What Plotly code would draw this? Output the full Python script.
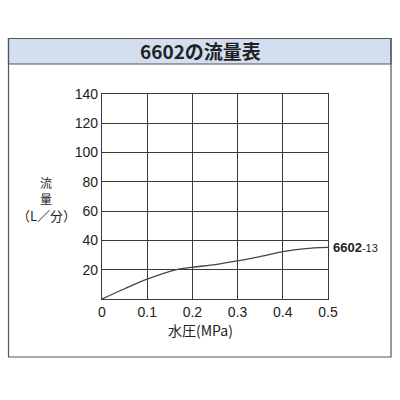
import plotly.graph_objects as go

pressure = [0, 0.05, 0.1, 0.165, 0.2, 0.25, 0.3, 0.35, 0.4, 0.45, 0.5]
flow = [0, 7, 13.5, 20, 21.7, 23.5, 26, 29, 32.3, 34.4, 35.2]
x_ticks = [0, 0.1, 0.2, 0.3, 0.4, 0.5]
x_tick_labels = ["0", "0.1", "0.2", "0.3", "0.4", "0.5"]
y_ticks = [20, 40, 60, 80, 100, 120, 140]
title_text = "6602の流量表"
y_title_lines = ["流", "量", "（L／分）"]
x_title = "水圧(MPa)"
series_name = "6602"
series_suffix = "-13"

W = H = 400
def px(x):
    return x / W
def py(y):
    return 1 - y / H

font_jp = "Noto Sans CJK JP"
tick_color = "#222222"
grid_color = "#3a3a3a"

fig = go.Figure()
fig.add_trace(go.Scatter(
    x=pressure, y=flow, mode="lines",
    line=dict(color="#444444", width=1.3, shape="spline", smoothing=0.8),
    hoverinfo="skip", showlegend=False,
))

annotations = [
    dict(text="<b>" + title_text + "</b>", xref="paper", yref="paper",
         x=px(200), y=py(51), xanchor="center", yanchor="middle", showarrow=False,
         font=dict(family=font_jp, size=19, color="#222222")),
    dict(text=x_title, xref="paper", yref="paper",
         x=px(200), y=py(330), xanchor="center", yanchor="middle", showarrow=False,
         borderpad=0,
         font=dict(family=font_jp, size=14, color="#222222")),
    dict(text="<b>" + series_name + "</b><span style='font-size:11px'>" + series_suffix + "</span>",
         x=pressure[-1], y=flow[-1], xref="x", yref="y",
         xanchor="left", yanchor="middle", xshift=3, showarrow=False,
         font=dict(family="Liberation Sans, Arial", size=13, color="#222222")),
]
for i, (txt, yy) in enumerate(zip(y_title_lines, [182, 198, 215])):
    annotations.append(dict(text=txt, xref="paper", yref="paper",
                            x=px(46), y=py(yy), xanchor="center", yanchor="middle",
                            showarrow=False, borderpad=0,
                            font=dict(family=font_jp, size=12 if i < 2 else 13, color="#222222")))

fig.update_layout(
    width=W, height=H,
    margin=dict(l=0, r=0, t=0, b=0),
    paper_bgcolor="white", plot_bgcolor="white",
    showlegend=False,
    xaxis=dict(
        domain=[px(102), px(328)], range=[0, 0.5],
        tickvals=x_ticks, ticktext=x_tick_labels,
        showgrid=True, gridcolor=grid_color, gridwidth=1.4,
        showline=True, linecolor=grid_color, linewidth=1.4, mirror=True,
        zeroline=False, ticks="", ticklen=0, automargin=False,
        tickfont=dict(family="Liberation Sans, Arial", size=14, color=tick_color),
    ),
    yaxis=dict(
        domain=[py(299), py(94)], range=[0, 140],
        tickvals=y_ticks,
        showgrid=True, gridcolor=grid_color, gridwidth=1.4,
        showline=True, linecolor=grid_color, linewidth=1.4, mirror=True,
        zeroline=False, ticks="", ticklen=0, automargin=False,
        tickfont=dict(family="Liberation Sans, Arial", size=14, color=tick_color),
    ),
    shapes=[
        dict(type="rect", xref="paper", yref="paper",
             x0=px(8.5), x1=px(391), y0=py(64), y1=py(38.5),
             fillcolor="#d3def0", line=dict(color="#555555", width=1.2), layer="below"),
        dict(type="rect", xref="paper", yref="paper",
             x0=px(8.5), x1=px(391), y0=py(357), y1=py(38.5),
             fillcolor="rgba(0,0,0,0)", line=dict(color="#555555", width=1.2), layer="below"),
    ],
    annotations=annotations,
)

fig.write_html("out.html", config={"displayModeBar": False},
               post_script="document.body.style.margin='0';document.body.style.overflow='hidden';")
